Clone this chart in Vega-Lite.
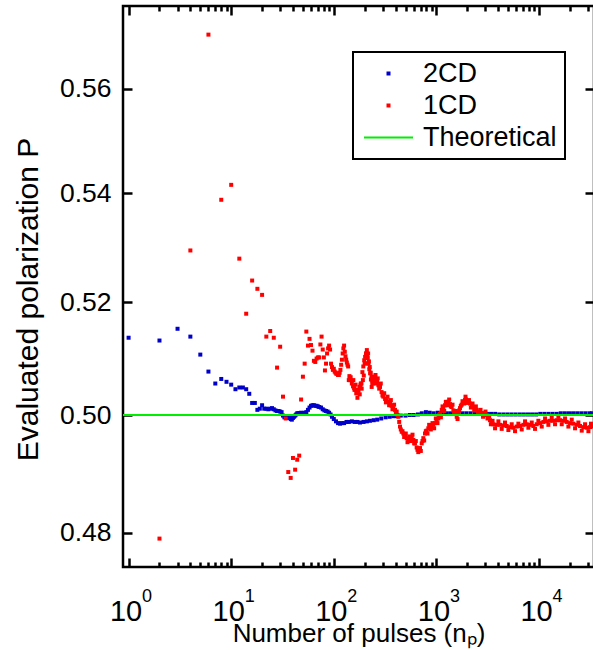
{
"$schema": "https://vega.github.io/schema/vega-lite/v6.json",
"width": 471,
"height": 561,
"autosize": {"type": "none"},
"padding": {"left": 123, "top": 6, "right": 0, "bottom": 83},
"background": "white",
"config": {
  "font": "Liberation Sans",
  "view": {"stroke": "black", "strokeWidth": 2.5},
  "axis": {"grid": false, "domain": false, "tickColor": "black", "tickWidth": 2.5, "labelColor": "black", "titleColor": "black", "labelFont": "Liberation Sans", "titleFont": "Liberation Sans", "titleFontWeight": "normal", "labelOverlap": false, "labelFlush": false},
  "legend": {"strokeWidth": 2}
},
"datasets": {
  "pts": [
    {"series":"2CD","n":1,"P":0.5136},{"series":"2CD","n":2,"P":0.5131},{"series":"2CD","n":3,"P":0.5152},{"series":"2CD","n":4,"P":0.5138},{"series":"2CD","n":5,"P":0.5106},{"series":"2CD","n":6,"P":0.5076},{"series":"2CD","n":7,"P":0.5055},{"series":"2CD","n":8,"P":0.5063},{"series":"2CD","n":9,"P":0.5058},{"series":"2CD","n":10,"P":0.5053},
    {"series":"2CD","n":11,"P":0.5045},{"series":"2CD","n":12,"P":0.5048},{"series":"2CD","n":13,"P":0.5048},{"series":"2CD","n":14,"P":0.5045},{"series":"2CD","n":15,"P":0.5037},{"series":"2CD","n":16,"P":0.5021},{"series":"2CD","n":17,"P":0.5021},{"series":"2CD","n":18,"P":0.5009},{"series":"2CD","n":19,"P":0.5011},{"series":"2CD","n":20,"P":0.5017},
    {"series":"2CD","n":21,"P":0.5011},{"series":"2CD","n":22,"P":0.5011},{"series":"2CD","n":23,"P":0.501},{"series":"2CD","n":24,"P":0.5011},{"series":"2CD","n":25,"P":0.5012},{"series":"2CD","n":26,"P":0.501},{"series":"2CD","n":27,"P":0.5008},{"series":"2CD","n":28,"P":0.5007},{"series":"2CD","n":29,"P":0.5007},{"series":"2CD","n":30,"P":0.5006},
    {"series":"2CD","n":31,"P":0.5005},{"series":"2CD","n":32,"P":0.4999},{"series":"2CD","n":33,"P":0.4996},{"series":"2CD","n":34,"P":0.4996},{"series":"2CD","n":35,"P":0.4997},{"series":"2CD","n":36,"P":0.4995},{"series":"2CD","n":37,"P":0.4996},{"series":"2CD","n":38,"P":0.4993},{"series":"2CD","n":39,"P":0.4992},{"series":"2CD","n":40,"P":0.4995},
    {"series":"2CD","n":41,"P":0.4997},{"series":"2CD","n":42,"P":0.4999},{"series":"2CD","n":43,"P":0.5001},{"series":"2CD","n":44,"P":0.5003},{"series":"2CD","n":45,"P":0.5003},{"series":"2CD","n":46,"P":0.5003},{"series":"2CD","n":47,"P":0.5003},{"series":"2CD","n":48,"P":0.5004},{"series":"2CD","n":50,"P":0.5003},{"series":"2CD","n":52,"P":0.5004},
    {"series":"2CD","n":54,"P":0.5005},{"series":"2CD","n":56,"P":0.5009},{"series":"2CD","n":58,"P":0.5013},{"series":"2CD","n":60,"P":0.5016},{"series":"2CD","n":62,"P":0.5017},{"series":"2CD","n":64,"P":0.5017},{"series":"2CD","n":66,"P":0.5016},{"series":"2CD","n":68,"P":0.5016},{"series":"2CD","n":70,"P":0.5015},{"series":"2CD","n":72,"P":0.5014},
    {"series":"2CD","n":75,"P":0.5013},{"series":"2CD","n":78,"P":0.501},{"series":"2CD","n":81,"P":0.5008},{"series":"2CD","n":84,"P":0.5007},{"series":"2CD","n":87,"P":0.5006},{"series":"2CD","n":90,"P":0.5004},{"series":"2CD","n":93,"P":0.5001},{"series":"2CD","n":96,"P":0.4997},{"series":"2CD","n":100,"P":0.4993},{"series":"2CD","n":105,"P":0.4989},
    {"series":"2CD","n":110,"P":0.4986},{"series":"2CD","n":115,"P":0.4985},{"series":"2CD","n":120,"P":0.4986},{"series":"2CD","n":126,"P":0.4986},{"series":"2CD","n":133,"P":0.4988},{"series":"2CD","n":140,"P":0.4988},{"series":"2CD","n":150,"P":0.4989},{"series":"2CD","n":160,"P":0.4988},{"series":"2CD","n":170,"P":0.4988},{"series":"2CD","n":180,"P":0.4987},
    {"series":"2CD","n":195,"P":0.4988},{"series":"2CD","n":210,"P":0.4989},{"series":"2CD","n":225,"P":0.499},{"series":"2CD","n":245,"P":0.4991},{"series":"2CD","n":265,"P":0.4992},{"series":"2CD","n":290,"P":0.4994},{"series":"2CD","n":320,"P":0.4996},{"series":"2CD","n":350,"P":0.4997},{"series":"2CD","n":380,"P":0.4998},{"series":"2CD","n":410,"P":0.4998},
    {"series":"2CD","n":450,"P":0.4999},{"series":"2CD","n":500,"P":0.4999},{"series":"2CD","n":550,"P":0.5},{"series":"2CD","n":600,"P":0.5},{"series":"2CD","n":660,"P":0.5001},{"series":"2CD","n":720,"P":0.5003},{"series":"2CD","n":790,"P":0.5005},{"series":"2CD","n":860,"P":0.5004},{"series":"2CD","n":940,"P":0.5003},{"series":"2CD","n":1030,"P":0.5004},
    {"series":"2CD","n":1130,"P":0.5004},{"series":"2CD","n":1240,"P":0.5003},{"series":"2CD","n":1360,"P":0.5003},{"series":"2CD","n":1490,"P":0.5003},{"series":"2CD","n":1630,"P":0.5002},{"series":"2CD","n":1790,"P":0.5003},{"series":"2CD","n":1960,"P":0.5003},{"series":"2CD","n":2150,"P":0.5003},{"series":"2CD","n":2360,"P":0.5003},{"series":"2CD","n":2590,"P":0.5003},
    {"series":"2CD","n":2840,"P":0.5003},{"series":"2CD","n":3110,"P":0.5002},{"series":"2CD","n":3410,"P":0.5002},{"series":"2CD","n":3740,"P":0.5002},{"series":"2CD","n":4100,"P":0.5001},{"series":"2CD","n":4500,"P":0.5001},{"series":"2CD","n":4930,"P":0.5001},{"series":"2CD","n":5400,"P":0.5001},{"series":"2CD","n":5920,"P":0.5001},{"series":"2CD","n":6500,"P":0.5001},
    {"series":"2CD","n":7120,"P":0.5001},{"series":"2CD","n":7810,"P":0.5001},{"series":"2CD","n":8560,"P":0.5001},{"series":"2CD","n":9380,"P":0.5001},{"series":"2CD","n":10290,"P":0.5002},{"series":"2CD","n":11280,"P":0.5002},{"series":"2CD","n":12370,"P":0.5002},{"series":"2CD","n":13560,"P":0.5002},{"series":"2CD","n":14870,"P":0.5002},{"series":"2CD","n":16300,"P":0.5003},
    {"series":"2CD","n":17870,"P":0.5003},{"series":"2CD","n":19600,"P":0.5003},{"series":"2CD","n":21490,"P":0.5003},{"series":"2CD","n":23560,"P":0.5003},{"series":"2CD","n":25830,"P":0.5003},{"series":"2CD","n":28320,"P":0.5003},{"series":"2CD","n":31050,"P":0.5003},{"series":"2CD","n":32768,"P":0.5003},
    {"series":"1CD","n":2,"P":0.479},{"series":"1CD","n":4,"P":0.5294},{"series":"1CD","n":6,"P":0.5706},{"series":"1CD","n":8,"P":0.5388},{"series":"1CD","n":10,"P":0.5416},{"series":"1CD","n":12,"P":0.5279},{"series":"1CD","n":14,"P":0.5179},{"series":"1CD","n":16,"P":0.5239},{"series":"1CD","n":18,"P":0.5224},{"series":"1CD","n":20,"P":0.5213},
    {"series":"1CD","n":22,"P":0.5138},{"series":"1CD","n":24,"P":0.5148},{"series":"1CD","n":26,"P":0.5136},{"series":"1CD","n":28,"P":0.5083},{"series":"1CD","n":30,"P":0.512},{"series":"1CD","n":32,"P":0.5032},{"series":"1CD","n":34,"P":0.4994},{"series":"1CD","n":36,"P":0.4902},{"series":"1CD","n":38,"P":0.4892},{"series":"1CD","n":40,"P":0.4926},
    {"series":"1CD","n":42,"P":0.4906},{"series":"1CD","n":44,"P":0.4923},{"series":"1CD","n":46,"P":0.493},{"series":"1CD","n":48,"P":0.5027},{"series":"1CD","n":50,"P":0.5067},{"series":"1CD","n":52,"P":0.509},{"series":"1CD","n":54,"P":0.5147},{"series":"1CD","n":56,"P":0.5122},{"series":"1CD","n":58,"P":0.5134},{"series":"1CD","n":60,"P":0.5123},
    {"series":"1CD","n":62,"P":0.5113},{"series":"1CD","n":64,"P":0.5095},{"series":"1CD","n":66,"P":0.5093},{"series":"1CD","n":68,"P":0.5099},{"series":"1CD","n":70,"P":0.5101},{"series":"1CD","n":72,"P":0.5101},{"series":"1CD","n":74,"P":0.5124},{"series":"1CD","n":76,"P":0.5138},{"series":"1CD","n":78,"P":0.5115},{"series":"1CD","n":80,"P":0.5101},
    {"series":"1CD","n":82,"P":0.5078},{"series":"1CD","n":84,"P":0.509},{"series":"1CD","n":86,"P":0.5108},{"series":"1CD","n":88,"P":0.5117},{"series":"1CD","n":90,"P":0.5122},{"series":"1CD","n":92,"P":0.5115},{"series":"1CD","n":94,"P":0.509},{"series":"1CD","n":96,"P":0.5084},{"series":"1CD","n":98,"P":0.5079},{"series":"1CD","n":100,"P":0.5081},
    {"series":"1CD","n":102,"P":0.5076},{"series":"1CD","n":104,"P":0.5074},{"series":"1CD","n":106,"P":0.5072},{"series":"1CD","n":108,"P":0.5073},{"series":"1CD","n":110,"P":0.507},{"series":"1CD","n":112,"P":0.507},{"series":"1CD","n":114,"P":0.5074},{"series":"1CD","n":116,"P":0.5079},{"series":"1CD","n":118,"P":0.5088},{"series":"1CD","n":120,"P":0.5097},
    {"series":"1CD","n":122,"P":0.5108},{"series":"1CD","n":124,"P":0.5117},{"series":"1CD","n":126,"P":0.5122},{"series":"1CD","n":128,"P":0.5111},{"series":"1CD","n":130,"P":0.5103},{"series":"1CD","n":132,"P":0.5097},{"series":"1CD","n":134,"P":0.5092},{"series":"1CD","n":136,"P":0.5088},{"series":"1CD","n":138,"P":0.5085},{"series":"1CD","n":140,"P":0.5061},
    {"series":"1CD","n":142,"P":0.5068},{"series":"1CD","n":144,"P":0.5061},{"series":"1CD","n":146,"P":0.5066},{"series":"1CD","n":150,"P":0.5055},{"series":"1CD","n":154,"P":0.505},{"series":"1CD","n":158,"P":0.5047},{"series":"1CD","n":162,"P":0.5044},{"series":"1CD","n":166,"P":0.5038},{"series":"1CD","n":170,"P":0.503},{"series":"1CD","n":174,"P":0.5042},
    {"series":"1CD","n":178,"P":0.5049},{"series":"1CD","n":182,"P":0.5052},{"series":"1CD","n":186,"P":0.5055},{"series":"1CD","n":190,"P":0.5075},{"series":"1CD","n":194,"P":0.5085},{"series":"1CD","n":198,"P":0.5096},{"series":"1CD","n":202,"P":0.5102},{"series":"1CD","n":206,"P":0.5108},{"series":"1CD","n":210,"P":0.5114},{"series":"1CD","n":214,"P":0.51},
    {"series":"1CD","n":218,"P":0.509},{"series":"1CD","n":222,"P":0.508},{"series":"1CD","n":226,"P":0.5073},{"series":"1CD","n":230,"P":0.5062},{"series":"1CD","n":234,"P":0.5049},{"series":"1CD","n":238,"P":0.506},{"series":"1CD","n":242,"P":0.5067},{"series":"1CD","n":248,"P":0.5064},{"series":"1CD","n":256,"P":0.5061},{"series":"1CD","n":264,"P":0.5058},
    {"series":"1CD","n":272,"P":0.5052},{"series":"1CD","n":282,"P":0.5049},{"series":"1CD","n":292,"P":0.504},{"series":"1CD","n":304,"P":0.5032},{"series":"1CD","n":316,"P":0.5028},{"series":"1CD","n":328,"P":0.5026},{"series":"1CD","n":340,"P":0.5023},{"series":"1CD","n":353,"P":0.502},{"series":"1CD","n":366,"P":0.5016},{"series":"1CD","n":380,"P":0.5012},
    {"series":"1CD","n":395,"P":0.5009},{"series":"1CD","n":410,"P":0.5006},{"series":"1CD","n":426,"P":0.4997},{"series":"1CD","n":442,"P":0.498},{"series":"1CD","n":459,"P":0.4971},{"series":"1CD","n":476,"P":0.4968},{"series":"1CD","n":494,"P":0.4965},{"series":"1CD","n":513,"P":0.496},{"series":"1CD","n":533,"P":0.4957},{"series":"1CD","n":554,"P":0.496},
    {"series":"1CD","n":575,"P":0.4962},{"series":"1CD","n":596,"P":0.4957},{"series":"1CD","n":618,"P":0.4951},{"series":"1CD","n":642,"P":0.4944},{"series":"1CD","n":666,"P":0.4936},{"series":"1CD","n":692,"P":0.4943},{"series":"1CD","n":719,"P":0.4951},{"series":"1CD","n":746,"P":0.496},{"series":"1CD","n":774,"P":0.4968},{"series":"1CD","n":804,"P":0.4973},
    {"series":"1CD","n":834,"P":0.4977},{"series":"1CD","n":866,"P":0.4979},{"series":"1CD","n":899,"P":0.498},{"series":"1CD","n":934,"P":0.4983},{"series":"1CD","n":969,"P":0.4986},{"series":"1CD","n":1006,"P":0.499},{"series":"1CD","n":1045,"P":0.4994},{"series":"1CD","n":1085,"P":0.5002},{"series":"1CD","n":1127,"P":0.5009},{"series":"1CD","n":1170,"P":0.5013},
    {"series":"1CD","n":1213,"P":0.5017},{"series":"1CD","n":1260,"P":0.5021},{"series":"1CD","n":1307,"P":0.5023},{"series":"1CD","n":1357,"P":0.5019},{"series":"1CD","n":1409,"P":0.5014},{"series":"1CD","n":1463,"P":0.5008},{"series":"1CD","n":1518,"P":0.5003},{"series":"1CD","n":1577,"P":0.4997},{"series":"1CD","n":1637,"P":0.5004},{"series":"1CD","n":1698,"P":0.5012},
    {"series":"1CD","n":1763,"P":0.5018},{"series":"1CD","n":1830,"P":0.5023},{"series":"1CD","n":1900,"P":0.5026},{"series":"1CD","n":1944,"P":0.5027},{"series":"1CD","n":2030,"P":0.5024},{"series":"1CD","n":2125,"P":0.502},{"series":"1CD","n":2210,"P":0.5017},{"series":"1CD","n":2291,"P":0.5014},{"series":"1CD","n":2380,"P":0.5011},{"series":"1CD","n":2471,"P":0.5009},
    {"series":"1CD","n":2620,"P":0.5006},{"series":"1CD","n":2766,"P":0.5003},{"series":"1CD","n":2930,"P":0.5001},{"series":"1CD","n":3093,"P":0.5},{"series":"1CD","n":3210,"P":0.4995},{"series":"1CD","n":3330,"P":0.4991},{"series":"1CD","n":3460,"P":0.4987},{"series":"1CD","n":3589,"P":0.4984},{"series":"1CD","n":3870,"P":0.4983},{"series":"1CD","n":4169,"P":0.4983},
    {"series":"1CD","n":4490,"P":0.4982},{"series":"1CD","n":4843,"P":0.4981},{"series":"1CD","n":5220,"P":0.4979},{"series":"1CD","n":5623,"P":0.4978},{"series":"1CD","n":6060,"P":0.498},{"series":"1CD","n":6531,"P":0.4981},{"series":"1CD","n":7040,"P":0.4983},{"series":"1CD","n":7586,"P":0.4984},{"series":"1CD","n":8180,"P":0.4983},{"series":"1CD","n":8810,"P":0.4981},
    {"series":"1CD","n":9500,"P":0.4984},{"series":"1CD","n":10230,"P":0.4986},{"series":"1CD","n":11030,"P":0.4988},{"series":"1CD","n":11890,"P":0.4989},{"series":"1CD","n":12800,"P":0.499},{"series":"1CD","n":13800,"P":0.499},{"series":"1CD","n":14880,"P":0.4991},{"series":"1CD","n":16030,"P":0.4991},{"series":"1CD","n":17280,"P":0.499},{"series":"1CD","n":18620,"P":0.4988},
    {"series":"1CD","n":20070,"P":0.4986},{"series":"1CD","n":21630,"P":0.4985},{"series":"1CD","n":23300,"P":0.4983},{"series":"1CD","n":25110,"P":0.4981},{"series":"1CD","n":27070,"P":0.4979},{"series":"1CD","n":29170,"P":0.4978},{"series":"1CD","n":31440,"P":0.4979},{"series":"1CD","n":32768,"P":0.498},
    {"series":"1CD","n":155,"P":0.5061},{"series":"1CD","n":159,"P":0.5044},{"series":"1CD","n":163,"P":0.5053},{"series":"1CD","n":167,"P":0.5038},{"series":"1CD","n":171,"P":0.5044},{"series":"1CD","n":179,"P":0.5036},{"series":"1CD","n":183,"P":0.5055},{"series":"1CD","n":187,"P":0.5046},{"series":"1CD","n":192,"P":0.5061},{"series":"1CD","n":196,"P":0.5069},
    {"series":"1CD","n":200,"P":0.5091},{"series":"1CD","n":204,"P":0.509},{"series":"1CD","n":208,"P":0.5108},{"series":"1CD","n":212,"P":0.5102},{"series":"1CD","n":216,"P":0.5108},{"series":"1CD","n":220,"P":0.5094},{"series":"1CD","n":224,"P":0.5084},{"series":"1CD","n":229,"P":0.5074},{"series":"1CD","n":233,"P":0.5067},{"series":"1CD","n":237,"P":0.5056},
    {"series":"1CD","n":241,"P":0.5055},{"series":"1CD","n":245,"P":0.5066},{"series":"1CD","n":249,"P":0.5061},{"series":"1CD","n":255,"P":0.507},{"series":"1CD","n":260,"P":0.5055},{"series":"1CD","n":268,"P":0.5064},{"series":"1CD","n":277,"P":0.5046},{"series":"1CD","n":287,"P":0.5055},{"series":"1CD","n":298,"P":0.5034},{"series":"1CD","n":310,"P":0.5038},
    {"series":"1CD","n":322,"P":0.5022},{"series":"1CD","n":334,"P":0.5032},{"series":"1CD","n":346,"P":0.5017},{"series":"1CD","n":360,"P":0.5026},{"series":"1CD","n":373,"P":0.501},{"series":"1CD","n":387,"P":0.5018},{"series":"1CD","n":402,"P":0.5003},{"series":"1CD","n":418,"P":0.5},{"series":"1CD","n":434,"P":0.4988},{"series":"1CD","n":450,"P":0.4975},
    {"series":"1CD","n":467,"P":0.4972},{"series":"1CD","n":485,"P":0.4962},{"series":"1CD","n":503,"P":0.4968},{"series":"1CD","n":523,"P":0.4953},{"series":"1CD","n":543,"P":0.4963},{"series":"1CD","n":564,"P":0.4955},{"series":"1CD","n":585,"P":0.4966},{"series":"1CD","n":607,"P":0.4951},{"series":"1CD","n":630,"P":0.4955},{"series":"1CD","n":654,"P":0.494},
    {"series":"1CD","n":679,"P":0.4942},{"series":"1CD","n":705,"P":0.4938},{"series":"1CD","n":732,"P":0.4955},{"series":"1CD","n":760,"P":0.4956},{"series":"1CD","n":789,"P":0.4972},{"series":"1CD","n":819,"P":0.4968},{"series":"1CD","n":850,"P":0.4983},{"series":"1CD","n":882,"P":0.4975},{"series":"1CD","n":916,"P":0.4986},{"series":"1CD","n":951,"P":0.4977},
    {"series":"1CD","n":987,"P":0.4994},{"series":"1CD","n":1025,"P":0.4986},{"series":"1CD","n":1065,"P":0.5},{"series":"1CD","n":1106,"P":0.4996},{"series":"1CD","n":1148,"P":0.5015},{"series":"1CD","n":1191,"P":0.5007},{"series":"1CD","n":1236,"P":0.5023},{"series":"1CD","n":1283,"P":0.5017},{"series":"1CD","n":1332,"P":0.5027},{"series":"1CD","n":1383,"P":0.5015},
    {"series":"1CD","n":1436,"P":0.5018},{"series":"1CD","n":1490,"P":0.5003},{"series":"1CD","n":1547,"P":0.5007},{"series":"1CD","n":1607,"P":0.4993},{"series":"1CD","n":1667,"P":0.5008},{"series":"1CD","n":1730,"P":0.5016},{"series":"1CD","n":1796,"P":0.5024},{"series":"1CD","n":1865,"P":0.502},{"series":"1CD","n":1922,"P":0.5032},{"series":"1CD","n":1987,"P":0.5021},
    {"series":"1CD","n":2077,"P":0.5026},{"series":"1CD","n":2167,"P":0.5013},{"series":"1CD","n":2250,"P":0.502},{"series":"1CD","n":2335,"P":0.5008},{"series":"1CD","n":2425,"P":0.5015},{"series":"1CD","n":2545,"P":0.5003},{"series":"1CD","n":2693,"P":0.5009},{"series":"1CD","n":2848,"P":0.4997},{"series":"1CD","n":3010,"P":0.5006},{"series":"1CD","n":3150,"P":0.4994},
    {"series":"1CD","n":3270,"P":0.4998},{"series":"1CD","n":3395,"P":0.4984},{"series":"1CD","n":3525,"P":0.499},{"series":"1CD","n":3730,"P":0.4977},{"series":"1CD","n":4020,"P":0.4989},{"series":"1CD","n":4330,"P":0.4976},{"series":"1CD","n":4665,"P":0.4987},{"series":"1CD","n":5030,"P":0.4974},{"series":"1CD","n":5420,"P":0.4984},{"series":"1CD","n":5840,"P":0.4972},
    {"series":"1CD","n":6295,"P":0.4985},{"series":"1CD","n":6785,"P":0.4975},{"series":"1CD","n":7310,"P":0.4989},{"series":"1CD","n":7880,"P":0.4978},{"series":"1CD","n":8495,"P":0.4987},{"series":"1CD","n":9150,"P":0.4976},{"series":"1CD","n":9860,"P":0.499},{"series":"1CD","n":10630,"P":0.498},{"series":"1CD","n":11460,"P":0.4994},{"series":"1CD","n":12340,"P":0.4983},
    {"series":"1CD","n":13300,"P":0.4996},{"series":"1CD","n":14340,"P":0.4984},{"series":"1CD","n":15450,"P":0.4997},{"series":"1CD","n":16650,"P":0.4984},{"series":"1CD","n":17950,"P":0.4994},{"series":"1CD","n":19340,"P":0.498},{"series":"1CD","n":20850,"P":0.4992},{"series":"1CD","n":22460,"P":0.4977},{"series":"1CD","n":24200,"P":0.4987},{"series":"1CD","n":26090,"P":0.4973},
    {"series":"1CD","n":28120,"P":0.4984},{"series":"1CD","n":30300,"P":0.4972},{"series":"1CD","n":32100,"P":0.4985}
  ],
  "theory": [{"series": "Theoretical", "P": 0.5}]
},
"layer": [
  {
    "data": {"name": "pts"},
    "mark": {"type": "point", "filled": true, "size": 16, "opacity": 1},
    "encoding": {
      "x": {"field": "n", "type": "quantitative",
        "scale": {"type": "log", "domain": [0.882, 34360], "nice": false},
        "axis": {"orient": "bottom",
          "values": [1,2,3,4,5,6,7,8,9,10,20,30,40,50,60,70,80,90,100,200,300,400,500,600,700,800,900,1000,2000,3000,4000,5000,6000,7000,8000,9000,10000,20000,30000],
          "tickSize": {"condition": {"test": "indexof([1,10,100,1000,10000], datum.value) >= 0", "value": -9}, "value": -5},
          "labelExpr": "indexof([1,10,100,1000,10000], datum.value) >= 0 ? '10' : ''",
          "labelFontSize": 29, "labelBaseline": "alphabetic", "labelPadding": 62, "labelOffset": -3,
          "title": "Number of pulses (nₚ)", "titleFontSize": 26, "titleBaseline": "alphabetic", "titleY": 74}},
      "y": {"field": "P", "type": "quantitative",
        "scale": {"type": "log", "domain": [0.4743, 0.5763], "nice": false, "zero": false},
        "axis": {"orient": "left", "values": [0.48, 0.5, 0.52, 0.54, 0.56], "format": ".2f", "tickSize": -9,
          "labelFontSize": 26.5, "labelPadding": 21,
          "title": "Evaluated polarization P", "titleFontSize": 30, "titleX": -95, "titleY": 293, "titleBaseline": "middle", "titleAlign": "center", "titleAngle": -90}},
      "color": {"field": "series", "type": "nominal",
        "scale": {"domain": ["2CD", "1CD", "Theoretical"], "range": ["#0000c8", "#ff0000", "#00ee00"]},
        "legend": {"title": null, "orient": "none", "legendX": 230, "legendY": 46, "strokeColor": "black", "fillColor": "white", "padding": 8,
          "labelFontSize": 27, "labelFont": "Liberation Sans", "labelColor": "black", "labelLimit": 300,
          "symbolSize": 16, "symbolOffset": 14, "labelOffset": 21, "rowPadding": 4, "symbolOpacity": 1, "symbolStrokeWidth": 0,
          "encoding": {"legend": {"strokeWidth": {"value": 2}}}}},
      "shape": {"field": "series", "type": "nominal",
        "scale": {"domain": ["2CD", "1CD", "Theoretical"], "range": ["square", "square", "M-12.25,-0.55H12.25V0.55H-12.25Z"]},
        "legend": {"title": null, "orient": "none", "legendX": 230, "legendY": 46, "strokeColor": "black", "fillColor": "white", "padding": 8,
          "labelFontSize": 27, "labelFont": "Liberation Sans", "labelColor": "black", "labelLimit": 300,
          "symbolSize": 16, "symbolOffset": 14, "labelOffset": 21, "rowPadding": 4, "symbolOpacity": 1, "symbolStrokeWidth": 0,
          "encoding": {"legend": {"strokeWidth": {"value": 2}}}}}
    }
  },
  {
    "data": {"name": "theory"},
    "mark": {"type": "rule", "color": "#00ee00", "strokeWidth": 2},
    "encoding": {
      "x": {"datum": 0.882, "type": "quantitative",
        "axis": {"orient": "top",
          "values": [1,2,3,4,5,6,7,8,9,10,20,30,40,50,60,70,80,90,100,200,300,400,500,600,700,800,900,1000,2000,3000,4000,5000,6000,7000,8000,9000,10000,20000,30000],
          "tickSize": {"condition": {"test": "indexof([1,10,100,1000,10000], datum.value) >= 0", "value": -9}, "value": -5},
          "labels": false, "title": null}},
      "x2": {"datum": 34360},
      "y": {"field": "P", "type": "quantitative",
        "axis": {"orient": "right", "values": [0.48, 0.5, 0.52, 0.54, 0.56], "tickSize": -9, "labels": false, "title": null}}
    }
  },
  {
    "data": {"name": "theory"},
    "mark": {"type": "rule", "color": "#00ee00", "strokeWidth": 2},
    "encoding": {
      "x": {"datum": 0.882, "type": "quantitative",
        "axis": {"orient": "bottom", "values": [1, 10, 100, 1000, 10000], "ticks": false,
          "labelExpr": "['0','1','2','3','4'][indexof([1,10,100,1000,10000], datum.value)]",
          "labelFontSize": 18, "labelBaseline": "alphabetic", "labelPadding": 34, "labelOffset": 18, "title": null}},
      "x2": {"datum": 34360},
      "y": {"field": "P", "type": "quantitative", "axis": null}
    }
  }
],
"resolve": {"axis": {"x": "independent", "y": "independent"}}
}
